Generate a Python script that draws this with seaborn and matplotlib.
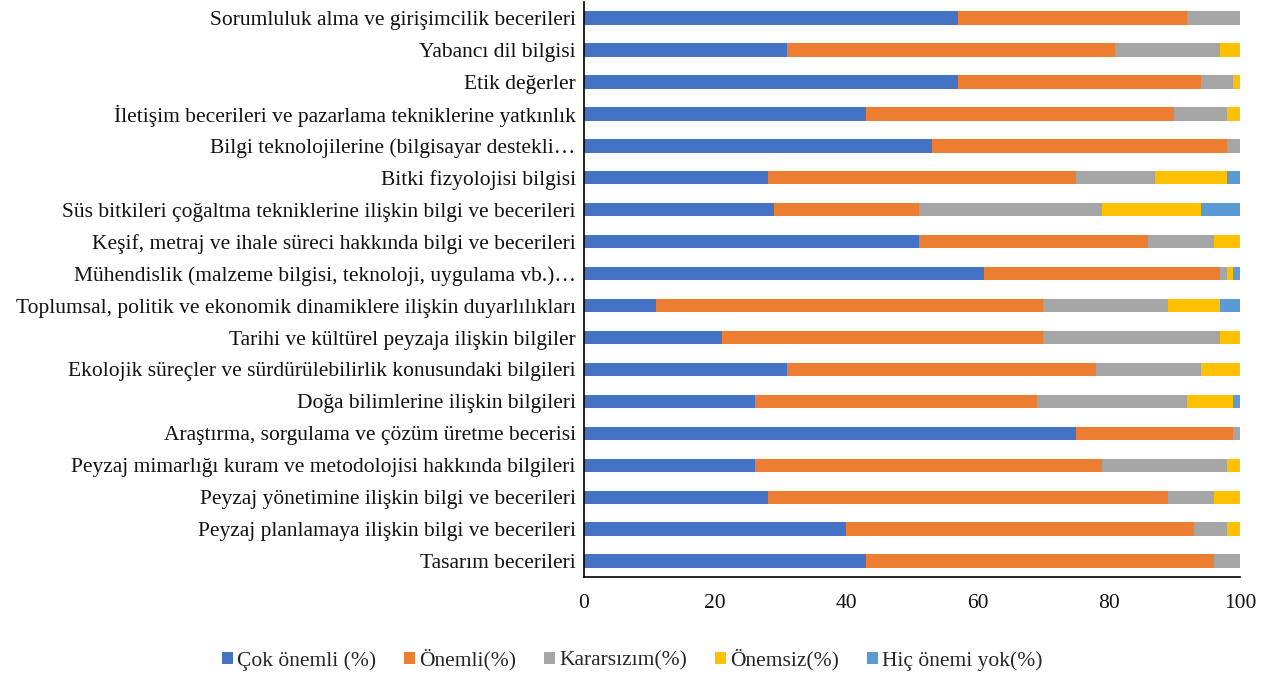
import numpy as np
import pandas as pd
import matplotlib.pyplot as plt
import seaborn as sns
from matplotlib.patches import Patch

# --- data (top to bottom as shown) ---
categories = [
    "Sorumluluk alma ve girişimcilik becerileri",
    "Yabancı dil bilgisi",
    "Etik değerler",
    "İletişim becerileri ve pazarlama tekniklerine yatkınlık",
    "Bilgi teknolojilerine (bilgisayar destekli…",
    "Bitki fizyolojisi bilgisi",
    "Süs bitkileri çoğaltma tekniklerine ilişkin bilgi ve becerileri",
    "Keşif, metraj ve ihale süreci hakkında bilgi ve becerileri",
    "Mühendislik (malzeme bilgisi, teknoloji, uygulama vb.)…",
    "Toplumsal, politik ve ekonomik dinamiklere ilişkin duyarlılıkları",
    "Tarihi ve kültürel peyzaja ilişkin bilgiler",
    "Ekolojik süreçler ve sürdürülebilirlik konusundaki bilgileri",
    "Doğa bilimlerine ilişkin bilgileri",
    "Araştırma, sorgulama ve çözüm üretme becerisi",
    "Peyzaj mimarlığı kuram ve metodolojisi hakkında bilgileri",
    "Peyzaj yönetimine ilişkin bilgi ve becerileri",
    "Peyzaj planlamaya ilişkin bilgi ve becerileri",
    "Tasarım becerileri",
]
cok_onemli = [57, 31, 57, 43, 53, 28, 29, 51, 61, 11, 21, 31, 26, 75, 26, 28, 40, 43]
onemli     = [35, 50, 37, 47, 45, 47, 22, 35, 36, 59, 49, 47, 43, 24, 53, 61, 53, 53]
kararsizim = [8, 16, 5, 8, 2, 12, 28, 10, 1, 19, 27, 16, 23, 1, 19, 7, 5, 4]
onemsiz    = [0, 3, 1, 2, 0, 11, 15, 4, 1, 8, 3, 6, 7, 0, 2, 4, 2, 0]
hic_onemi  = [0, 0, 0, 0, 0, 2, 6, 0, 1, 3, 0, 0, 1, 0, 0, 0, 0, 0]

series_names = ["Çok önemli (%)", "Önemli(%)", "Kararsızım(%)", "Önemsiz(%)", "Hiç önemi yok(%)"]
colors = ["#4472C4", "#ED7D31", "#A5A5A5", "#FFC000", "#5B9BD5"]

df = pd.DataFrame({"kategori": categories})
series = [cok_onemli, onemli, kararsizim, onemsiz, hic_onemi]
cum = np.cumsum(np.array(series), axis=0)

sns.set_style("white")
plt.rcParams["font.family"] = ["Liberation Serif", "DejaVu Serif"]

fig = plt.figure(figsize=(12.65, 6.75), dpi=100)
ax = fig.add_axes([0.4617, 0.145, 0.5185, 0.852])

# stacked bars: draw cumulative totals from largest to smallest
for i in range(len(series) - 1, -1, -1):
    d = df.assign(val=cum[i])
    sns.barplot(data=d, x="val", y="kategori", orient="h", color=colors[i],
                saturation=1, width=0.42, ax=ax, edgecolor="none", linewidth=0)

ax.set_xlim(0, 100)
ax.set_xticks([0, 20, 40, 60, 80, 100])
ax.set_xlabel("")
ax.set_ylabel("")
ax.tick_params(axis="both", length=0, labelsize=15.5, colors="#111111")
ax.tick_params(axis="x", pad=12)
ax.tick_params(axis="y", pad=6)
for s in ["top", "right"]:
    ax.spines[s].set_visible(False)
ax.spines["left"].set_color("black")
ax.spines["left"].set_linewidth(1.2)
ax.spines["bottom"].set_color("black")
ax.spines["bottom"].set_linewidth(1.2)

handles = [Patch(facecolor=c, edgecolor="none") for c in colors]
fig.legend(handles, series_names, loc="center", bbox_to_anchor=(0.5, 0.022),
           ncol=5, frameon=False, fontsize=15.5, handlelength=0.5, handleheight=0.5,
           handletextpad=0.2, columnspacing=1.3)

fig.savefig("out.png", dpi=100)
